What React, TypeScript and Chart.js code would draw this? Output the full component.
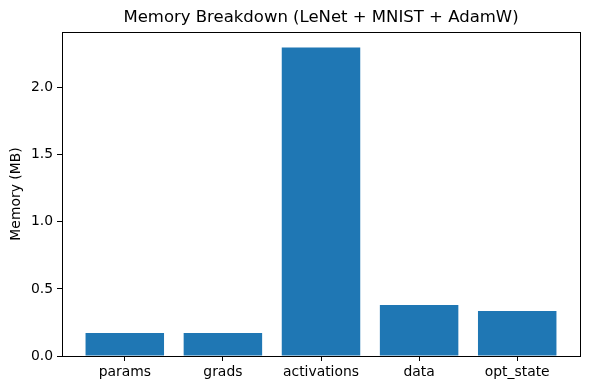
import React, { useEffect, useRef } from "react";
import { Chart, registerables } from "chart.js";

Chart.register(...registerables);

const categories = ["params", "grads", "activations", "data", "opt_state"];
const memoryMB = [0.172, 0.172, 2.30, 0.381, 0.336];
const yTicks = [0, 0.5, 1.0, 1.5, 2.0];
const titleText = "Memory Breakdown (LeNet + MNIST + AdamW)";
const yLabel = "Memory (MB)";

const FONT = "'DejaVu Sans', sans-serif";

export default function App() {
  const ref = useRef<HTMLCanvasElement | null>(null);

  useEffect(() => {
    if (!ref.current) return;
    const framePlugin = {
      id: "frame",
      afterDraw(chart: any) {
        const { ctx, chartArea } = chart;
        ctx.save();
        ctx.strokeStyle = "#000";
        ctx.lineWidth = 1;
        ctx.strokeRect(
          Math.round(chartArea.left) + 0.5,
          Math.round(chartArea.top) + 0.5,
          Math.round(chartArea.right - chartArea.left),
          Math.round(chartArea.bottom - chartArea.top)
        );
        ctx.fillStyle = "#000";
        ctx.font = `16.5px ${FONT}`;
        ctx.textAlign = "center";
        ctx.textBaseline = "middle";
        ctx.fillText(titleText, (chartArea.left + chartArea.right) / 2, 18);
        ctx.restore();
      },
    };
    const chart = new Chart(ref.current, {
      type: "bar",
      data: {
        datasets: [
          {
            data: memoryMB.map((v, i) => ({ x: i, y: v })),
            backgroundColor: "#1f77b4",
            borderWidth: 0,
            barPercentage: 0.8,
            categoryPercentage: 1.0,
          },
        ],
      },
      options: {
        animation: false,
        responsive: false,
        devicePixelRatio: 1,
        layout: { padding: { left: 0, top: 32, right: 10, bottom: 0 } },
        plugins: { legend: { display: false }, tooltip: { enabled: false }, title: { display: false } },
        scales: {
          x: {
            type: "linear",
            min: -0.64,
            max: 4.64,
            offset: false,
            grid: { offset: false, drawOnChartArea: false, drawTicks: true, tickLength: 5, color: "#000" },
            border: { display: true, color: "#000", width: 1 },
            afterBuildTicks: (s: any) => {
              s.ticks = categories.map((_, i) => ({ value: i }));
            },
            afterFit: (s: any) => {
              s.height = 34;
            },
            ticks: {
              autoSkip: false,
              maxRotation: 0,
              padding: 3,
              color: "#000",
              font: { family: FONT, size: 13.9 },
              callback: (v: any) => categories[Math.round(Number(v))] ?? "",
            },
          },
          y: {
            type: "linear",
            min: 0,
            max: 2.415,
            grid: { drawOnChartArea: false, drawTicks: true, tickLength: 5, color: "#000" },
            border: { display: true, color: "#000", width: 1 },
            afterBuildTicks: (s: any) => {
              s.ticks = yTicks.map((v) => ({ value: v }));
            },
            afterFit: (s: any) => {
              s.width = 62;
            },
            title: {
              display: true,
              text: yLabel,
              color: "#000",
              font: { family: FONT, size: 13.9 },
              padding: { top: 8, bottom: 0 },
            },
            ticks: {
              padding: 4,
              color: "#000",
              font: { family: FONT, size: 13.9 },
              callback: (v: any) => Number(v).toFixed(1),
            },
          },
        },
      },
      plugins: [framePlugin],
    } as any);
    return () => chart.destroy();
  }, []);

  return (
    <div style={{ position: "absolute", left: 0, top: 0, width: 590, height: 390, background: "#fff" }}>
      <canvas ref={ref} width={590} height={390} style={{ width: 590, height: 390 }} />
    </div>
  );
}
